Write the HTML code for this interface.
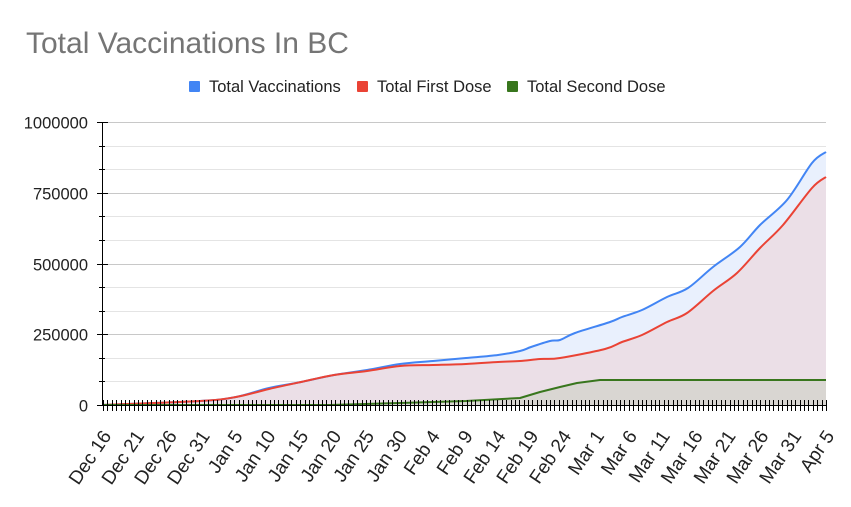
<!DOCTYPE html>
<html><head><meta charset="utf-8"><style>
body{margin:0;background:#fff;width:851px;height:507px;overflow:hidden}
svg{display:block;font-family:"Liberation Sans",Arial,sans-serif}
</style></head><body>
<svg id="s" width="851" height="507" xmlns="http://www.w3.org/2000/svg">
<rect width="851" height="507" fill="#fff"/>
<text x="26" y="53" font-size="30" fill="#757575">Total Vaccinations In BC</text>
<rect x="189" y="81" width="11" height="11" rx="1" fill="#4285f4"/>
<text x="209" y="92" font-size="16.5" fill="#222">Total Vaccinations</text>
<rect x="357" y="81" width="11" height="11" rx="1" fill="#ea4335"/>
<text x="377" y="92" font-size="16.5" fill="#222">Total First Dose</text>
<rect x="507" y="81" width="11" height="11" rx="1" fill="#38761d"/>
<text x="527" y="92" font-size="16.5" fill="#222">Total Second Dose</text>
<g id="grid"></g>
<g id="series"></g>
<g id="axes"></g>
</svg>
<script>
var NS="http://www.w3.org/2000/svg";
function el(p,t,a,txt){var e=document.createElementNS(NS,t);for(var k in a)e.setAttribute(k,a[k]);if(txt!=null)e.textContent=txt;p.appendChild(e);return e;}
var g=document.getElementById('grid'),se=document.getElementById('series'),ax=document.getElementById('axes');
var L=103,R=826,T=122,B=405;
for(var i=0;i<12;i++){var y=Math.round(T+(B-T)*i/12)+0.5;
 el(g,'line',{x1:L,x2:R,y1:y,y2:y,stroke:i%3==0?'#c8c8c8':'#e4e4e4','stroke-width':1});}
var blue=[[103,405],[200,401],[236,397],[269,388],[301,382],[334,375],[367,370],[400,364],[433,361],[466,358],[498,355],[520,351],[531,347],[550,341],[560,340],[575,333],[610,322],[622,317],[642,310],[667,297],[688,288],[713,267],[740,247],[760,225],[787,200],[812,163],[826,152]];
var red=[[103,405],[200,401],[236,397],[269,389],[301,382],[334,375],[367,371],[400,366],[433,365],[466,364],[498,362],[520,361],[540,359],[560,358],[605,349],[622,342],[642,335],[667,322],[687,313],[713,291],[737,273],[760,248],[783,225],[812,188],[826,177]];
var green=[[103,405],[330,405],[400,403],[466,401],[520,398],[540,392],[560,387],[577,383],[600,380],[826,380]];
function path(p){var d='M'+p[0][0]+','+p[0][1];for(var i=0;i<p.length-1;i++){var p0=p[i-1]||p[i],p1=p[i],p2=p[i+1],p3=p[i+2]||p2;
 var c1x=p1[0]+(p2[0]-p0[0])/6,c1y=p1[1]+(p2[1]-p0[1])/6,c2x=p2[0]-(p3[0]-p1[0])/6,c2y=p2[1]-(p3[1]-p1[1])/6;
 d+=' C'+c1x.toFixed(1)+','+c1y.toFixed(1)+' '+c2x.toFixed(1)+','+c2y.toFixed(1)+' '+p2[0]+','+p2[1];}return d;}
function lin(p){return 'M'+p.map(function(q){return q[0]+','+q[1]}).join(' L');}
var db=path(blue),dr=path(red),dg=lin(green);
el(se,'path',{d:db+' L826,405 L103,405Z',fill:'#e9f0fd'});
el(se,'path',{d:dr+' L826,405 L103,405Z',fill:'#ebdfe7'});
el(se,'path',{d:dg+' L826,405 L103,405Z',fill:'#d9d6d2'});
el(se,'path',{d:db,fill:'none',stroke:'#4285f4','stroke-width':2});
el(se,'path',{d:dr,fill:'none',stroke:'#ea4335','stroke-width':2});
el(se,'path',{d:dg,fill:'none',stroke:'#38761d','stroke-width':2,'stroke-linejoin':'round'});
el(ax,'line',{x1:102.5,x2:102.5,y1:T,y2:B,stroke:'#000'});
el(ax,'line',{x1:L,x2:R,y1:405.5,y2:405.5,stroke:'#000'});
var lab=['1000000','750000','500000','250000','0'];
for(var i=0;i<=12;i++){var y=Math.round(T+(B-T)*i/12)+0.5;
 if(i%3==0){el(ax,'line',{x1:97,x2:108,y1:y,y2:y,stroke:'#000'});el(ax,'text',{x:88,y:y+6,'font-size':16.5,'text-anchor':'end',fill:'#222'},lab[i/3]);}
 else el(ax,'line',{x1:99,x2:105,y1:y,y2:y,stroke:'#000'});}
var n=165;for(var i=0;i<=n;i++){var x=Math.round(L+(R-L)*i/n)+0.5;el(ax,'line',{x1:x,x2:x,y1:400,y2:411,stroke:'#000'});}
var dates=['Dec 16','Dec 21','Dec 26','Dec 31','Jan 5','Jan 10','Jan 15','Jan 20','Jan 25','Jan 30','Feb 4','Feb 9','Feb 14','Feb 19','Feb 24','Mar 1','Mar 6','Mar 11','Mar 16','Mar 21','Mar 26','Mar 31','Apr 5'];
for(var i=0;i<dates.length;i++){var x=L+(R-L)*i*5/110+9;var y=436;
 el(ax,'text',{x:x,y:y,'font-size':19,'text-anchor':'end',fill:'#222',transform:'rotate(-56 '+x+' '+y+')'},dates[i]);}
</script>
</body></html>
